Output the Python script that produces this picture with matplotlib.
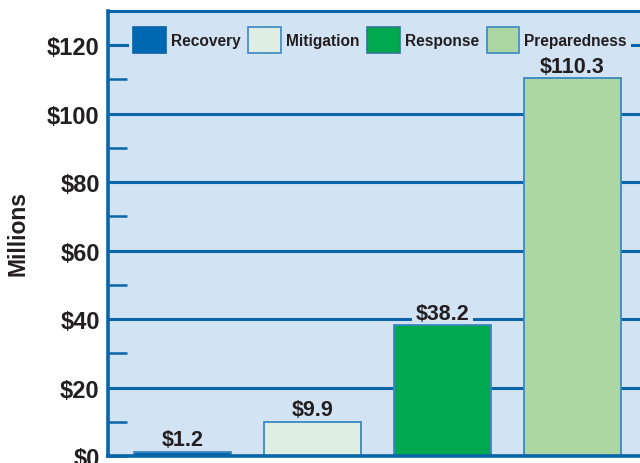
import matplotlib.pyplot as plt
from matplotlib.patches import Patch
from matplotlib.ticker import MultipleLocator, FuncFormatter

categories = ['Recovery', 'Mitigation', 'Response', 'Preparedness']
values = [1.2, 9.9, 38.2, 110.3]
colors = ['#0067b1', '#deeee3', '#00a94f', '#acd6a2']

bg = '#d2e3f4'
blue = '#0a64a8'
edge = '#3b88c3'
ink = '#231f20'

plt.rcParams['font.family'] = ['Liberation Sans', 'DejaVu Sans']
plt.rcParams['font.weight'] = 'bold'

fig = plt.figure(figsize=(6.4, 4.64), dpi=100)
# axes runs off the right edge of the canvas
ax = fig.add_axes([108 / 640, 7 / 464, 552 / 640, 445 / 464])
ax.set_facecolor(bg)
ax.set_axisbelow(True)

x = range(len(categories))
bars = ax.bar(x, values, width=0.746, color=colors, edgecolor=edge, linewidth=1.3, zorder=2)

# labels sit between the grid and the bars so their box only masks grid lines
for xi, v in zip(x, values):
    ax.annotate(f'${v:g}', (xi, v), xytext=(0, 1.2), textcoords='offset points',
                ha='center', va='bottom', fontsize=15.5, fontweight='bold', color=ink,
                bbox=dict(boxstyle='square,pad=0.15', fc=bg, ec='none'), zorder=1.5)

ax.set_xlim(-0.573, 3.673)
ax.set_ylim(0, 130)
ax.yaxis.set_major_locator(MultipleLocator(20))
ax.yaxis.set_minor_locator(MultipleLocator(10))
ax.yaxis.set_major_formatter(FuncFormatter(lambda v, p: f'${v:.0f}'))
ax.set_xticks([])
ax.grid(axis='y', which='major', color=blue, linewidth=2.2)
ax.tick_params(axis='y', which='both', direction='in', length=14, width=1.8,
               color=blue, labelsize=17, labelcolor=ink, pad=6)
for lbl in ax.get_yticklabels():
    lbl.set_fontweight('bold')

for side in ['left', 'bottom', 'top', 'right']:
    ax.spines[side].set_color(blue)
ax.spines['left'].set_linewidth(2.6)
ax.spines['bottom'].set_linewidth(2.6)
ax.spines['top'].set_linewidth(2.2)

fig.text(18 / 640, 1 - 234 / 464, 'Millions', rotation=90, ha='center', va='center',
         fontsize=16.5, fontweight='bold', color=ink)

handles = [Patch(facecolor=c, edgecolor=e, linewidth=1.2)
           for c, e in zip(colors, [blue, edge, '#2f7a8f', edge])]
leg = ax.legend(handles, categories, ncol=4, loc='upper left',
                bbox_to_anchor=(129 / 640, 1 - 24 / 464), bbox_transform=fig.transFigure,
                prop={'size': 11.2, 'weight': 'bold'}, frameon=True, facecolor=bg,
                edgecolor='none', framealpha=1, fancybox=False, borderpad=0.25,
                handlelength=2.1, handleheight=2.2, handletextpad=0.32,
                columnspacing=0.5, borderaxespad=0)
for t in leg.get_texts():
    t.set_color(ink)

fig.savefig('out.png', dpi=100)
